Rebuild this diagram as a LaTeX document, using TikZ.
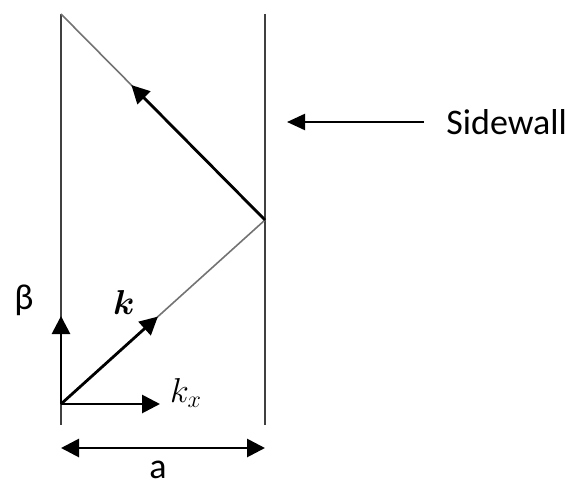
\documentclass[tikz,border=0pt]{standalone}
\usepackage{amsmath,amssymb,bm}
\usepackage{fontspec}
\setmainfont{Carlito}
\usetikzlibrary{arrows.meta,calc}
\begin{document}
\begin{tikzpicture}[x=0.5pt,y=-0.5pt,
  wall/.style={line width=1.2pt,draw=black!75},
  ray/.style={line width=0.8pt,draw=black!55},
  vec/.style={line width=1.4pt,draw=black,-{Triangle[length=9pt,width=9pt]}},
  dim/.style={line width=1.4pt,draw=black,{Triangle[length=9pt,width=9pt]}-{Triangle[length=9pt,width=9pt]}},
  lbl/.style={inner sep=0pt,font=\fontsize{18}{20}\selectfont},
  mlbl/.style={inner sep=0pt,font=\fontsize{18}{20}\selectfont}]
\useasboundingbox (0,0) rectangle (577,486);
% key points
\coordinate (LT) at (61,14);
\coordinate (LB) at (61,425);
\coordinate (RT) at (265,14);
\coordinate (RB) at (265,425);
\coordinate (O) at (61,404);
\coordinate (R) at (265,220);
\coordinate (Btip) at (61,316);
\coordinate (Kxtip) at (160,404);
\coordinate (Ktip) at ($(O)!0.475!(R)$);
\coordinate (Utip) at ($(R)!0.655!(LT)$);
\coordinate (DL) at (61,448);
\coordinate (DR) at (265,448);
\coordinate (SWs) at (424,122);
\coordinate (SWe) at (287,122);
% walls
\draw[wall] (LT) -- (LB);
\draw[wall] (RT) -- (RB);
% rays
\draw[ray] (O) -- (R);
\draw[ray] (R) -- (LT);
% vectors
\draw[vec] (O) -- (Ktip);
\draw[vec] (R) -- (Utip);
\draw[vec] (O) -- (Btip);
\draw[vec] (O) -- (Kxtip);
\draw[dim] (DL) -- (DR);
\draw[line width=1.1pt,-{Triangle[length=9pt,width=8pt]}] (SWs) -- (SWe);
% labels
\node[lbl] (beta) at (24,300) {β};
\node[mlbl] (k) at (124,302) {$\boldsymbol{k}$};
\node[mlbl] (kx) at (186,393) {$k_x$};
\node[lbl] (a) at (158,470) {a};
\node[lbl,anchor=west] (sw) at (446,122) {Sidewall};
\end{tikzpicture}
\end{document}
